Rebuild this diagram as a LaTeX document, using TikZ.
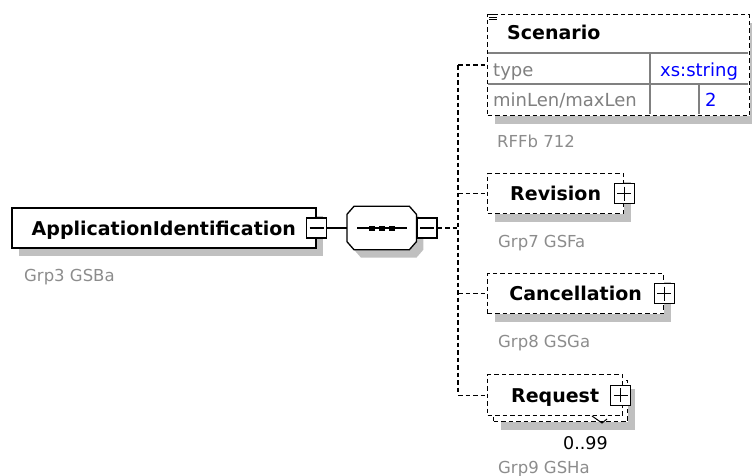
\documentclass[tikz,border=0pt]{standalone}
\usepackage{fontspec}
\setmainfont{DejaVu Sans}
\usetikzlibrary{shadows}
\definecolor{shadegray}{RGB}{192,192,192}
\definecolor{notegray}{RGB}{140,140,140}
\definecolor{gridgray}{RGB}{128,128,128}
\definecolor{typeblue}{RGB}{0,0,255}
\tikzset{
  elem/.style={draw, fill=white, line width=1.3pt, inner sep=0pt, minimum height=40pt,
    text height=14pt, text depth=0pt, font=\bfseries\fontsize{19}{22}\selectfont},
  optional/.style={elem, dash pattern=on 4.5pt off 3pt},
  shade/.style={drop shadow={shadow xshift=7pt, shadow yshift=-8pt, fill=shadegray, opacity=1}},
  toggle/.style={draw, fill=white, line width=1.3pt, minimum size=20pt, inner sep=0pt},
  minus/.style={toggle, path picture={
    \draw[line width=1.3pt] ([xshift=3pt]path picture bounding box.west) -- ([xshift=-3pt]path picture bounding box.east);}},
  plus/.style={toggle, path picture={
    \draw[line width=1.3pt] ([xshift=3pt]path picture bounding box.west) -- ([xshift=-3pt]path picture bounding box.east);
    \draw[line width=1.3pt] ([yshift=-3pt]path picture bounding box.north) -- ([yshift=3pt]path picture bounding box.south);}},
  conn/.style={line width=1.3pt, dash pattern=on 4.5pt off 3pt},
  note/.style={anchor=base west, inner sep=0pt, text=notegray, font=\fontsize{16.5}{19}\selectfont},
  cell/.style={anchor=base west, inner sep=0pt, font=\fontsize{18}{21}\selectfont},
}
\begin{document}
\begin{tikzpicture}[x=1pt, y=-1pt]
    \useasboundingbox (0,0) rectangle (752,476);
    % root element and sequence
    \node[elem, shade, line width=1.6pt, minimum width=304pt, anchor=west] (root) at (11,228) {ApplicationIdentification};
    \node[minus] (rootminus) at (root.east) {};
    \node[note] (rootnote) at (24,281) {Grp3 GSBa};
    \node[minimum width=69pt, minimum height=43pt, inner sep=0pt, anchor=west] (seq) at (347,228) {};
    \draw[line width=1.3pt, fill=white, shade]
        ([xshift=7pt]seq.north west) -- ([xshift=-7pt]seq.north east)
        -- ([yshift=-8pt]seq.north east) -- ([yshift=8pt]seq.south east)
        -- ([xshift=-7pt]seq.south east) -- ([xshift=7pt]seq.south west)
        -- ([yshift=8pt]seq.south west) -- ([yshift=-8pt]seq.north west) -- cycle;
    \draw[line width=1.3pt] ([xshift=-24.5pt]seq.center) -- ([xshift=25.5pt]seq.center);
    \foreach \dx in {-10,0,10}
        \fill ([xshift=\dx pt]seq.center) +(-3,-2.5) rectangle +(3,2.5);
    \node[minus, anchor=west] (seqminus) at (seq.east) {};
    \draw[line width=1.3pt] (rootminus) -- (seq);
    \coordinate (fork) at (458,228);
    \draw[conn] (seqminus) -- (fork);
    % Scenario
    \node[optional, shade, minimum width=262pt, minimum height=101pt, anchor=north west] (scen) at (487,14) {};
    \node[cell, font=\bfseries\fontsize{19}{22}\selectfont] (scenname) at (507,40) {Scenario};
    \foreach \yy in {15,17.5,20}
        \draw[line width=1pt] (489,\yy) -- (497,\yy);
    \draw[gridgray, line width=1.3pt] (488,53) -- (748,53);
    \draw[gridgray, line width=1.3pt] (488,84) -- (748,84);
    \draw[gridgray, line width=1.3pt] (650,53) -- (650,114);
    \draw[gridgray, line width=1.3pt] (699,84) -- (699,114);
    \node[cell, text=gridgray] (scentype) at (493,77) {type};
    \node[cell, text=typeblue] (scentypeval) at (660,77) {xs:string};
    \node[cell, text=gridgray] (scenlen) at (493,107) {minLen/maxLen};
    \node[cell, text=typeblue] (scenlenval) at (705,107) {2};
    \node[note] (scennote) at (497,147) {RFFb 712};
    % Revision
    \node[optional, shade, minimum width=136pt, anchor=west] (rev) at (487,193.5) {Revision};
    \node[plus] (revplus) at (rev.east) {};
    \node[note] (revnote) at (498,247) {Grp7 GSFa};
    % Cancellation
    \node[optional, shade, minimum width=176pt, anchor=west] (canc) at (487,293.5) {Cancellation};
    \node[plus] (cancplus) at (canc.east) {};
    \node[note] (cancnote) at (498,347) {Grp8 GSGa};
    % Request
    \node[optional, shade, minimum width=134pt, minimum height=41pt, anchor=north west] (reqback) at (493,380) {};
    \node[optional, minimum width=135pt, minimum height=41pt, anchor=north west] (req) at (487,374) {Request};
    \node[plus] (reqplus) at ([xshift=-2.5pt]req.east) {};
    \draw[line width=1pt] (592,416) -- (602,423) -- (607,419);
    \node[cell, font=\fontsize{17.5}{20}\selectfont] (reqmult) at (563,449) {0..99};
    \node[note] (reqnote) at (498,473) {Grp9 GSHa};
    % connectors
    \draw[conn] (fork |- scen.west) -- (fork |- req.west);
    \draw[conn] (fork |- scen.west) -- (scen.west);
    \draw[conn] (fork |- rev.west) -- (rev.west);
    \draw[conn] (fork |- canc.west) -- (canc.west);
    \draw[conn] (fork |- req.west) -- (req.west);
\end{tikzpicture}
\end{document}
